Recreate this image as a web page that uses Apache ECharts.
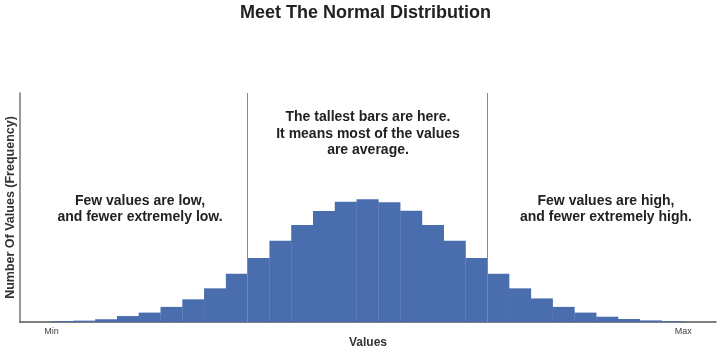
<!DOCTYPE html>
<html>
<head>
<meta charset="utf-8">
<script src="https://cdn.jsdelivr.net/npm/echarts@6/dist/echarts.min.js"></script>
<style>
html,body{margin:0;padding:0;background:#fff;}
#chart{width:720px;height:356px;}
</style>
</head>
<body>
<div id="chart"></div>
<script>
// Bin index (left edge) of each bar
var bins = [0,1,2,3,4,5,6,7,8,9,10,11,12,13,14,15,16,17,18,19,20,21,22,23,24,25,26,27,28];
// Frequency of each bin (arbitrary units, axis max 100)
var freq = [0.4,0.6,1.2,2.6,4.1,6.6,9.9,14.7,21.1,27.9,35.5,42.4,48.5,52.5,53.6,52.3,48.6,42.4,35.5,27.9,21.1,14.7,10.3,6.6,4.1,2.3,1.3,0.7,0.4];
// Tick labels at the ends of the value range
var tickValues = [0, 29];
var tickLabels = ['Min', 'Max'];
// Boundaries of the "average" region
var dividers = [9, 20];
var titleText = 'Meet The Normal Distribution';
var xName = 'Values';
var yName = 'Number Of Values (Frequency)';
var noteLeft = 'Few values are low,\nand fewer extremely low.';
var noteMid = 'The tallest bars are here.\nIt means most of the values\nare average.';
var noteRight = 'Few values are high,\nand fewer extremely high.';

var data = bins.map(function (b, i) { return [b, freq[i]]; });
var font = '"Liberation Sans", Arial, sans-serif';

var chart = echarts.init(document.getElementById('chart'), null, {renderer: 'canvas'});
chart.setOption({
  animation: false,
  backgroundColor: '#ffffff',
  title: {
    text: titleText,
    left: 235,
    top: -1,
    textStyle: {fontFamily: font, fontSize: 18, fontWeight: 'bold', color: '#222'}
  },
  grid: {left: 20, right: 4, top: 93, bottom: 34, containLabel: false, outerBoundsMode: 'none'},
  xAxis: {
    type: 'value',
    min: -1.45,
    max: 30.5,
    name: xName,
    nameLocation: 'middle',
    nameGap: 15,
    nameMoveOverlap: false,
    nameTextStyle: {fontFamily: font, fontSize: 12, fontWeight: 'bold', color: '#333'},
    axisLine: {show: true, onZero: false, lineStyle: {color: '#555', width: 1.5}},
    axisTick: {show: false},
    splitLine: {show: false},
    axisLabel: {
      show: true,
      customValues: tickValues,
      margin: 5,
      fontFamily: font,
      fontSize: 9,
      color: '#444',
      formatter: function (v) {
        var idx = tickValues.indexOf(Math.round(v));
        return idx >= 0 ? tickLabels[idx] : '';
      }
    }
  },
  yAxis: {
    type: 'value',
    min: 0,
    max: 100,
    name: yName,
    nameLocation: 'middle',
    nameGap: 3,
    nameMoveOverlap: false,
    nameTextStyle: {fontFamily: font, fontSize: 12.5, fontWeight: 'bold', color: '#333'},
    axisLine: {show: true, onZero: false, lineStyle: {color: '#777', width: 1.5}},
    axisTick: {show: false},
    axisLabel: {show: false},
    splitLine: {show: false}
  },
  graphic: [
    {type: 'text', x: 140, y: 193, style: {text: noteLeft, font: 'bold 14px ' + font, fill: '#222', textAlign: 'center', lineHeight: 16}},
    {type: 'text', x: 368, y: 109, style: {text: noteMid, font: 'bold 14px ' + font, fill: '#222', textAlign: 'center', lineHeight: 16.5}},
    {type: 'text', x: 606, y: 193, style: {text: noteRight, font: 'bold 14px ' + font, fill: '#222', textAlign: 'center', lineHeight: 16}}
  ],
  series: [{
    type: 'custom',
    data: data,
    encode: {x: 0, y: 1},
    renderItem: function (params, api) {
      var x0 = api.value(0);
      var h = api.value(1);
      var p1 = api.coord([x0, h]);
      var p2 = api.coord([x0 + 1, 0]);
      return {
        type: 'rect',
        shape: {x: p1[0], y: p1[1], width: p2[0] - p1[0] + 0.3, height: p2[1] - p1[1]},
        style: {fill: '#4a6ead'}
      };
    },
    markLine: {
      silent: true,
      symbol: 'none',
      label: {show: false},
      lineStyle: {color: '#888', width: 1, type: 'solid'},
      data: dividers.map(function (d) { return {xAxis: d}; })
    }
  }]
});
</script>
</body>
</html>
